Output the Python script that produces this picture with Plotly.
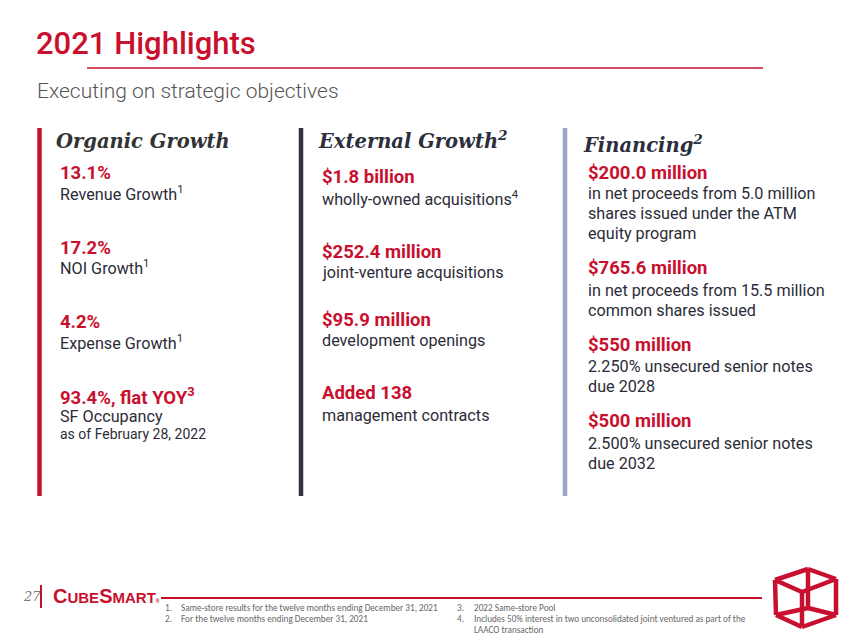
import plotly.graph_objects as go

W, H = 847, 635

title_text = "2021 Highlights"
subtitle_text = "Executing on strategic objectives"

col_headings = ["Organic Growth", "External Growth<sup>2</sup>", "Financing<sup>2</sup>"]
col_bar_colors = ["#c8102e", "#34343f", "#98a8c6"]

organic_values = ["13.1%", "17.2%", "4.2%", "93.4%, flat YOY<sup>3</sup>"]
organic_desc = [["Revenue Growth<sup>1</sup>"], ["NOI Growth<sup>1</sup>"], ["Expense Growth<sup>1</sup>"],
                ["SF Occupancy"]]
organic_note = "as of February 28, 2022"

external_values = ["$1.8 billion", "$252.4 million", "$95.9 million", "Added 138"]
external_desc = [["wholly-owned acquisitions<sup>4</sup>"], ["joint-venture acquisitions"],
                 ["development openings"], ["management contracts"]]

financing_values = ["$200.0 million", "$765.6 million", "$550 million", "$500 million"]
financing_desc = [["in net proceeds from 5.0 million", "shares issued under the ATM", "equity program"],
                  ["in net proceeds from 15.5 million", "common shares issued"],
                  ["2.250% unsecured senior notes", "due 2028"],
                  ["2.500% unsecured senior notes", "due 2032"]]

footnotes_left = ["Same-store results for the twelve months ending December 31, 2021",
                  "For the twelve months ending December 31, 2021"]
footnotes_right = ["2022 Same-store Pool",
                   "Includes 50% interest in two unconsolidated joint ventured as part of the",
                   "LAACO transaction"]
page_number = "27"

RED = "#c8102e"
DARK = "#2c2c38"
BODY_FONT = "Roboto"
SERIF = "DejaVu Serif"

fig = go.Figure()
fig.update_layout(
    width=W, height=H, margin=dict(l=0, r=0, t=0, b=0),
    paper_bgcolor="white", plot_bgcolor="white", showlegend=False,
    xaxis=dict(range=[0, W], visible=False, fixedrange=True),
    yaxis=dict(range=[H, 0], visible=False, fixedrange=True),
)

ann = []
shapes = []


def text(x, y, s, size, color, family=BODY_FONT, weight="normal", style="normal", xanchor="left"):
    ann.append(dict(x=x, y=y, xref="x", yref="y", text=s, showarrow=False,
                    xanchor=xanchor, yanchor="middle",
                    font=dict(family=family, size=size, color=color, weight=weight, style=style)))


# Header
text(34, 43, title_text, 31, RED, weight=500)
shapes.append(dict(type="line", x0=87, x1=763, y0=68, y1=68, line=dict(color=RED, width=1.5)))
text(35, 91, subtitle_text, 21, "#555555", weight=300)

# Columns
bar_x = [39.5, 301, 565]
head_x = [54, 316, 581]
text_x = [58, 320, 586]
head_y = [141, 140, 144]
for i in range(3):
    shapes.append(dict(type="line", x0=bar_x[i], x1=bar_x[i], y0=128, y1=496,
                       line=dict(color=col_bar_colors[i], width=4.5)))
    text(head_x[i], head_y[i], "<b><i>" + col_headings[i] + "</i></b>", 19.5, "#2b2f3c" if i else "#333333",
         family=SERIF, weight="bold", style="italic")

VAL_SIZE = 18.5
DESC_SIZE = 16.2

# Organic growth
org_val_y = [173, 248, 322, 396]
org_desc_y = [193, 267, 342, 416]
for v, d, yv, yd in zip(organic_values, organic_desc, org_val_y, org_desc_y):
    text(text_x[0], yv, v, VAL_SIZE, RED, weight="bold")
    for k, line in enumerate(d):
        text(text_x[0], yd + 20 * k, line, DESC_SIZE, DARK)
text(text_x[0], 434, organic_note, 14, DARK)

# External growth
ext_val_y = [177, 252, 320, 393]
ext_desc_y = [198, 272, 340, 415]
for v, d, yv, yd in zip(external_values, external_desc, ext_val_y, ext_desc_y):
    text(text_x[1], yv, v, VAL_SIZE, RED, weight="bold")
    for k, line in enumerate(d):
        text(text_x[1], yd + 20 * k, line, DESC_SIZE, DARK)

# Financing
fin_val_y = [173, 268, 345, 421]
fin_desc_y = [193, 290, 366, 443]
for v, d, yv, yd in zip(financing_values, financing_desc, fin_val_y, fin_desc_y):
    text(text_x[2], yv, v, VAL_SIZE, RED, weight="bold")
    for k, line in enumerate(d):
        text(text_x[2], yd + 20 * k, line, DESC_SIZE, DARK)

# Footer
text(21, 596, "<i>" + page_number + "</i>", 13, "#777777", family=SERIF, style="italic")
shapes.append(dict(type="line", x0=41, x1=41, y0=585, y1=608, line=dict(color=RED, width=2)))
text(51, 596, "<b>C<span style='font-size:15px'>UBE</span>S<span style='font-size:15px'>MART</span></b>"
     "<span style='font-size:5px'>®</span>", 20, RED, family="Liberation Sans", weight="bold")
shapes.append(dict(type="line", x0=161, x1=762, y0=598, y1=598, line=dict(color=RED, width=2)))
fn_size = 9.2
fn_color = "#666666"
for k, line in enumerate(footnotes_left):
    text(163, 607 + 11 * k, f"{k + 1}.", fn_size, fn_color, family="Carlito")
    text(179, 607 + 11 * k, line, fn_size, fn_color, family="Carlito")
for k, line in enumerate(footnotes_right):
    if k < 2:
        text(455, 607 + 11 * k, f"{k + 3}.", fn_size, fn_color, family="Carlito")
    text(472, 607 + 11 * k, line, fn_size, fn_color, family="Carlito")

# Cube logo (Necker-cube style wireframe)
cube_pts = {
    "A": (775, 580), "B": (808, 569), "C": (836, 579), "D": (836, 615),
    "E": (802, 627), "F": (776, 615), "G": (802, 592), "Hh": (808, 608),
}
cube_edges = [("A", "B"), ("B", "C"), ("C", "D"), ("D", "E"), ("E", "F"), ("F", "A"),
              ("A", "G"), ("G", "C"), ("G", "E"), ("B", "Hh"), ("Hh", "F"), ("Hh", "D")]
for a, b in cube_edges:
    (x0, y0), (x1, y1) = cube_pts[a], cube_pts[b]
    shapes.append(dict(type="line", x0=x0, y0=y0, x1=x1, y1=y1,
                       line=dict(color=RED, width=4.5)))

fig.update_layout(annotations=ann, shapes=shapes)
fig.write_html("out.html", config={"displayModeBar": False, "staticPlot": True})

# remove the browser's default page margin so the figure sits at the window origin
with open("out.html", encoding="utf-8") as f:
    html = f.read()
html = html.replace("<head>", "<head><style>html,body{margin:0;padding:0;overflow:hidden;}</style>", 1)
with open("out.html", "w", encoding="utf-8") as f:
    f.write(html)
